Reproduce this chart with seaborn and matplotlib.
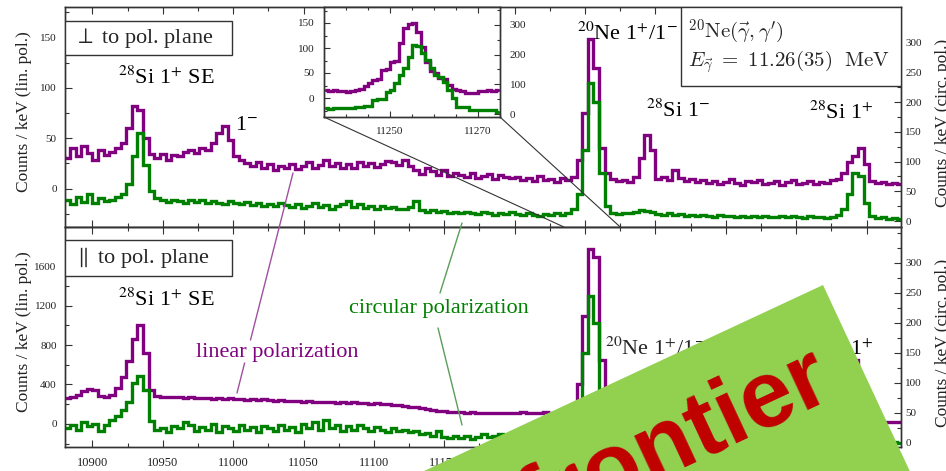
import numpy as np
import pandas as pd
import matplotlib
matplotlib.use("Agg")
import matplotlib.pyplot as plt
import seaborn as sns
from matplotlib.patches import Rectangle, Polygon, ConnectionPatch
from matplotlib.lines import Line2D
from matplotlib.ticker import MultipleLocator, FixedLocator

# ---------------- data ----------------
energy = np.arange(10878, 11475, 4)          # bin centres in keV (4 keV bins)

top_lin = [32,
    30, 40, 32, 42, 35, 28, 38, 33, 36, 40,
    45, 60, 82, 78, 50, 34, 30, 34, 28, 33,
    32, 36, 38, 35, 40, 38, 45, 55, 62, 48,
    32, 28, 25, 22, 26, 20, 24, 18, 22, 20,
    24, 19, 22, 26, 20, 23, 28, 22, 25, 20,
    24, 20, 26, 22, 25, 21, 24, 27, 26, 23,
    28, 22, 18, 15, 20, 17, 14, 18, 13, 16,
    14, 12, 16, 11, 13, 15, 10, 14, 12, 11,
    12, 9, 11, 8, 13, 9, 10, 7, 11, 9,
    12, 28, 75, 148, 120, 40, 16, 10, 8, 9,
    7, 12, 30, 53, 38, 10, 12, 9, 18, 11,
    8, 10, 7, 9, 6, 8, 5, 7, 10, 6,
    4, 8, 7, 9, 5, 6, 8, 4, 7, 9,
    5, 6, 8, 5, 7, 6, 9, 10, 16, 26,
    32, 40, 24, 8, 6, 7, 5, 6, 5]

top_circ = [33,
    35, 28, 40, 32, 45, 30, 38, 33, 36, 40,
    45, 62, 110, 148, 95, 50, 38, 35, 32, 36,
    33, 30, 35, 32, 36, 30, 34, 31, 29, 33,
    30, 28, 32, 27, 30, 26, 29, 25, 30, 27,
    24, 28, 22, 26, 30, 24, 27, 21, 25, 28,
    34, 24, 28, 22, 25, 20, 26, 22, 24, 21,
    20, 24, 33, 18, 16, 19, 15, 17, 14, 16,
    13, 16, 14, 12, 15, 13, 11, 14, 12, 15,
    12, 10, 13, 11, 9, 12, 10, 13, 11, 14,
    20, 45, 120, 232, 200, 80, 25, 14, 12, 13,
    14, 16, 18, 17, 15, 12, 11, 13, 10, 12,
    9, 11, 8, 10, 9, 7, 10, 8, 9, 7,
    8, 6, 9, 7, 8, 6, 7, 9, 6, 8,
    7, 5, 8, 6, 7, 5, 6, 10, 20, 45,
    80, 75, 30, 8, 5, 6, 4, 5, 4]

bot_lin = [260,
    262, 268, 290, 330, 352, 345, 285, 278, 295, 360,
    480, 640, 860, 1000, 720, 340, 280, 275, 270, 272,
    268, 265, 270, 262, 258, 264, 255, 260, 252, 258,
    250, 254, 246, 250, 242, 248, 240, 236, 244, 232,
    236, 228, 224, 230, 220, 225, 218, 222, 215, 220,
    212, 218, 208, 214, 205, 210, 200, 198, 192, 190,
    182, 176, 168, 160, 150, 142, 135, 128, 122, 118,
    116, 114, 118, 112, 115, 110, 113, 111, 114, 110,
    112, 116, 110, 114, 112, 118, 115, 113, 117, 120,
    140, 400, 1100, 1780, 1700, 650, 200, 120, 110, 108,
    105, 120, 180, 260, 200, 110, 100, 98, 95, 92,
    90, 86, 88, 80, 82, 76, 78, 70, 72, 66,
    68, 60, 62, 55, 58, 50, 52, 46, 48, 42,
    42, 40, 38, 36, 35, 34, 40, 80, 200, 420,
    650, 380, 100, 40, 28, 22, 20, 18, 18]

bot_circ = [28,
    25, 30, 22, 35, 28, 32, 20, 30, 38, 45,
    55, 68, 100, 112, 88, 36, 22, 25, 18, 28,
    24, 35, 30, 20, 26, 22, 32, 18, 28, 24,
    20, 30, 22, 26, 18, 28, 24, 20, 30, 22,
    26, 18, 32, 24, 35, 22, 38, 25, 30, 20,
    28, 22, 30, 25, 20, 27, 22, 18, 25, 20,
    22, 18, 20, 15, 17, 12, 20, 10, 8, 12,
    8, 12, 6, 10, 14, 9, 12, 15, 10, 13,
    12, 14, 11, 13, 10, 15, 12, 14, 13, 16,
    18, 40, 150, 245, 200, 60, 15, 10, 8, 9,
    10, 12, 15, 18, 14, 10, 9, 8, 9, 7,
    8, 6, 7, 5, 6, 7, 5, 6, 4, 5,
    4, 5, 3, 4, 5, 3, 4, 2, 3, 4,
    3, 2, 3, 4, 2, 3, 5, 10, 25, 50,
    70, 55, 20, 5, 2, 1, 0, 1, 0]

inset_energy = np.arange(11235.5, 11275, 1.0)  # 1 keV bins
inset_lin = [16, 15, 16, 14, 15, 12, 14, 16, 18, 24,
             30, 36, 38, 56, 58, 72, 74, 110, 140, 148,
             150, 132, 102, 72, 54, 50, 40, 38, 26, 18,
             16, 14, 10, 10, 11, 14, 15, 16, 15, 17]
inset_circ = [19, 18, 20, 19, 20, 21, 20, 22, 25, 26,
              28, 47, 50, 52, 75, 80, 103, 131, 154, 193,
              232, 230, 204, 182, 154, 131, 125, 109, 81, 53,
              25, 24, 22, 15, 13, 13, 14, 12, 13, 8]

inset_xticks = [11250, 11270]
left_top_ticks = [0, 50, 100, 150]
right_ticks = [0, 50, 100, 150, 200, 250, 300]
left_bot_ticks = [0, 400, 800, 1200, 1600]
inset_right_ticks = [0, 100, 200, 300]

PURPLE = "#800080"
GREEN = "#008000"
INK = "#222222"

# ---------------- style ----------------
sns.set_theme(style="ticks")
plt.rcParams["font.family"] = ["Liberation Serif", "DejaVu Serif"]
plt.rcParams["mathtext.fontset"] = "stix"
plt.rcParams["axes.edgecolor"] = "#333333"
plt.rcParams["axes.linewidth"] = 1.0
plt.rcParams["xtick.color"] = "#333333"
plt.rcParams["ytick.color"] = "#333333"
plt.rcParams["xtick.labelcolor"] = INK
plt.rcParams["ytick.labelcolor"] = INK

W, H = 946, 471
fig = plt.figure(figsize=(W / 100, H / 100), dpi=100)
fig.patch.set_facecolor("white")

def fx(px):
    return px / W

def fy(py):
    return 1 - py / H

ax_top = fig.add_axes([fx(65), fy(227), (901 - 65) / W, (227 - 7) / H])
ax_bot = fig.add_axes([fx(65), fy(447), (901 - 65) / W, (447 - 227) / H])
tw_top = ax_top.twinx()
tw_bot = ax_bot.twinx()
ax_top.set_zorder(1); tw_top.set_zorder(2)
ax_bot.set_zorder(1); tw_bot.set_zorder(2)

line_kw = dict(drawstyle="steps-mid", linewidth=2.4, estimator=None,
               solid_joinstyle="miter")
sns.lineplot(x=energy, y=top_lin, ax=ax_top, color=PURPLE, **line_kw)
sns.lineplot(x=energy, y=top_circ, ax=tw_top, color=GREEN, **line_kw)
sns.lineplot(x=energy, y=bot_lin, ax=ax_bot, color=PURPLE, **line_kw)
sns.lineplot(x=energy, y=bot_circ, ax=tw_bot, color=GREEN, **line_kw)

for a in (ax_top, ax_bot, tw_top, tw_bot):
    a.set_xlim(10880.5, 11474.5)
    a.xaxis.set_major_locator(MultipleLocator(50))
    a.xaxis.set_minor_locator(MultipleLocator(25))
    a.set_xlabel("")

for a in (ax_top, ax_bot):
    a.tick_params(axis="x", which="both", direction="in", top=True, bottom=True)
    a.tick_params(axis="y", which="both", direction="in", left=True, right=False,
                  labelsize=8, pad=6)
    a.tick_params(which="major", length=5, width=0.8)
    a.tick_params(which="minor", length=3, width=0.8)
for a in (tw_top, tw_bot):
    a.tick_params(axis="y", which="both", direction="in", right=True, left=False,
                  labelsize=8, pad=3)
    a.tick_params(which="major", length=5, width=0.8)
    a.tick_params(which="minor", length=3, width=0.8)
    a.tick_params(axis="x", which="both", top=False, bottom=False,
                  labeltop=False, labelbottom=False)

ax_top.tick_params(axis="x", labelbottom=False)
ax_bot.tick_params(axis="x", labelsize=9, pad=7)

ax_top.set_ylim(-38, 180)
ax_top.yaxis.set_major_locator(FixedLocator(left_top_ticks))
ax_top.yaxis.set_minor_locator(MultipleLocator(25))
tw_top.set_ylim(-10, 360)
tw_top.yaxis.set_major_locator(FixedLocator(right_ticks))
tw_top.yaxis.set_minor_locator(MultipleLocator(25))
ax_bot.set_ylim(-235, 2000)
ax_bot.yaxis.set_major_locator(FixedLocator(left_bot_ticks))
ax_bot.yaxis.set_minor_locator(MultipleLocator(200))
tw_bot.set_ylim(-7, 360)
tw_bot.yaxis.set_major_locator(FixedLocator(right_ticks))
tw_bot.yaxis.set_minor_locator(MultipleLocator(25))

for a in (ax_top, ax_bot):
    a.set_ylabel("Counts / keV (lin. pol.)", fontsize=12.5, color=INK)
    a.yaxis.set_label_coords(-0.0395, 0.525)
for a in (tw_top, tw_bot):
    a.set_ylabel("Counts / keV (circ. pol.)", fontsize=12.5, color=INK)
    a.yaxis.set_label_coords(1.0407, 0.475)

# ---------------- inset ----------------
ins = fig.add_axes([fx(324), fy(117), 176 / W, 110 / H])
ins_tw = ins.twinx()
ins.set_zorder(3); ins_tw.set_zorder(4)
ins.set_facecolor("white")
sns.lineplot(x=inset_energy, y=inset_lin, ax=ins, color=PURPLE, **line_kw)
sns.lineplot(x=inset_energy, y=inset_circ, ax=ins_tw, color=GREEN, **line_kw)
for a in (ins, ins_tw):
    a.set_xlim(11235, 11275)
    a.xaxis.set_major_locator(FixedLocator(inset_xticks))
    a.xaxis.set_minor_locator(MultipleLocator(5))
    a.set_xlabel("")
    a.set_ylabel("")
ins.set_ylim(-38, 182)
ins.yaxis.set_major_locator(FixedLocator(left_top_ticks))
ins.yaxis.set_minor_locator(MultipleLocator(25))
ins_tw.set_ylim(-10, 360)
ins_tw.yaxis.set_major_locator(FixedLocator(inset_right_ticks))
ins_tw.yaxis.set_minor_locator(MultipleLocator(50))
ins.tick_params(axis="both", which="both", direction="in", top=True, bottom=True,
                left=True, right=False, labelsize=8, pad=7)
ins.tick_params(which="major", length=4, width=0.8)
ins.tick_params(which="minor", length=2.5, width=0.8)
ins_tw.tick_params(axis="y", which="both", direction="in", right=True, left=False,
                   labelsize=8, pad=7)
ins_tw.tick_params(which="major", length=4, width=0.8)
ins_tw.tick_params(which="minor", length=2.5, width=0.8)
ins_tw.tick_params(axis="x", which="both", top=False, bottom=False,
                   labelbottom=False)

for xa in (11235, 11275):
    xyA = (0, 0) if xa == 11235 else (1, 0)
    cp = ConnectionPatch(xyA=xyA, coordsA=ins.transAxes,
                         xyB=(xa, -38), coordsB=ax_top.transData,
                         color="#333333", linewidth=0.8, zorder=5)
    fig.add_artist(cp)

# ---------------- text / boxes ----------------
def atx(px):
    return (px - 65) / 836

def aty_top(py):
    return 1 - (py - 7) / 220

def aty_bot(py):
    return 1 - (py - 227) / 220

lab_kw = dict(fontsize=16, color="black", ha="center", va="center")

tw_top.add_patch(Rectangle((0, aty_top(55)), atx(232), aty_top(21) - aty_top(55),
                           transform=tw_top.transAxes, facecolor="white",
                           edgecolor="#333333", linewidth=1.0, zorder=3))
tw_top.text(atx(74), aty_top(38), r"$\perp$ to pol. plane", transform=tw_top.transAxes,
            fontsize=16, ha="left", va="center", zorder=4)

tw_bot.add_patch(Rectangle((0, aty_bot(276)), atx(232), aty_bot(240) - aty_bot(276),
                           transform=tw_bot.transAxes, facecolor="white",
                           edgecolor="#333333", linewidth=1.0, zorder=3))
tw_bot.text(atx(74), aty_bot(258), r"$\parallel$ to pol. plane", transform=tw_bot.transAxes,
            fontsize=16, ha="left", va="center", zorder=4)

tw_top.add_patch(Rectangle((atx(681), aty_top(86)), 1 - atx(681), 1 - aty_top(86),
                           transform=tw_top.transAxes, facecolor="white",
                           edgecolor="#333333", linewidth=1.0, zorder=3))
tw_top.text(atx(688), aty_top(32), r"$^{20}\mathrm{Ne}(\vec{\gamma},\gamma')$",
            transform=tw_top.transAxes, fontsize=15, ha="left", va="center",
            math_fontfamily="cm", zorder=4)
tw_top.text(atx(688), aty_top(62), r"$E_{\vec{\gamma}}\ =\ 11.26(35)\ \ \mathrm{MeV}$",
            transform=tw_top.transAxes, fontsize=15, ha="left", va="center",
            math_fontfamily="cm", zorder=4)

tw_top.text(atx(166), aty_top(78), r"$^{28}$Si 1$^{+}$ SE", transform=tw_top.transAxes, **lab_kw)
tw_top.text(atx(247), aty_top(126), r"1$^{-}$", transform=tw_top.transAxes, **lab_kw)
tw_top.text(atx(627), aty_top(34), r"$^{20}$Ne 1$^{+}$/1$^{-}$", transform=tw_top.transAxes, **lab_kw)
tw_top.text(atx(678), aty_top(111), r"$^{28}$Si 1$^{-}$", transform=tw_top.transAxes, **lab_kw)
tw_top.text(atx(841), aty_top(113), r"$^{28}$Si 1$^{+}$", transform=tw_top.transAxes, **lab_kw)

tw_bot.text(atx(166), aty_bot(300), r"$^{28}$Si 1$^{+}$ SE", transform=tw_bot.transAxes, **lab_kw)
tw_bot.text(atx(605), aty_bot(349), r"$^{20}$Ne 1$^{+}$/1$^{-}$", transform=tw_bot.transAxes,
            fontsize=16, ha="left", va="center")
tw_bot.text(atx(841), aty_bot(349), r"$^{28}$Si 1$^{+}$", transform=tw_bot.transAxes, **lab_kw)

# pointer lines and polarization labels
for (x0, y0, x1, y1, c) in [(293, 173, 250.5, 340, "#a050a0"),
                            (244.6, 363, 237, 393, "#a050a0"),
                            (462, 223, 440, 293, "#5a9e5a"),
                            (438, 328, 462, 425, "#5a9e5a")]:
    fig.add_artist(Line2D([fx(x0), fx(x1)], [fy(y0), fy(y1)], color=c,
                          linewidth=1.0, transform=fig.transFigure, zorder=5))
fig.text(fx(277), fy(353), "linear polarization", color=PURPLE, fontsize=16,
         ha="center", va="center", zorder=6)
fig.text(fx(439), fy(308), "circular polarization", color=GREEN, fontsize=16,
         ha="center", va="center", zorder=6)

# ---------------- banner ----------------
theta = np.deg2rad(25)
apex = np.array([823.0, 285.0])
u = np.array([-np.cos(theta), np.sin(theta)])
v = np.array([np.sin(theta), np.cos(theta)])
pts_px = [apex, apex + 950 * u, apex + 950 * u + 450 * v, apex + 450 * v]
pts = [(fx(p[0]), fy(p[1])) for p in pts_px]
fig.add_artist(Polygon(pts, closed=True, facecolor="#92D050", edgecolor="none",
                       transform=fig.transFigure, zorder=10))
fig.text(fx(686), fy(466), "frontier", rotation=25, rotation_mode="anchor",
         ha="center", va="baseline", fontsize=68, fontweight="bold",
         color="#C00000", family="Liberation Sans", zorder=11)

fig.savefig("out.png", dpi=100)
